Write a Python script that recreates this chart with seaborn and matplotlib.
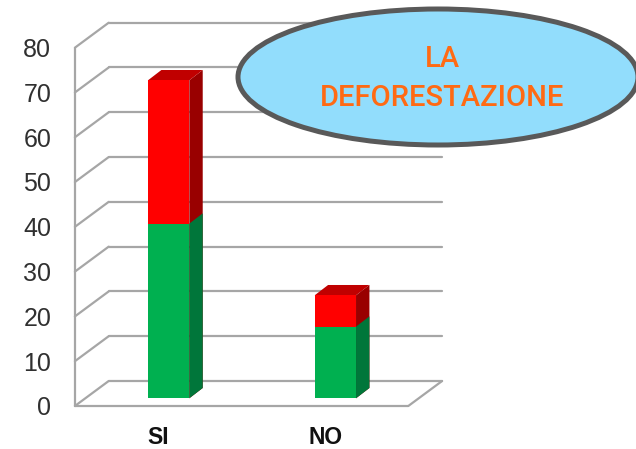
import matplotlib
matplotlib.use("Agg")
import matplotlib.pyplot as plt
import seaborn as sns
from matplotlib.patches import Ellipse, Polygon
from matplotlib.transforms import Affine2D, IdentityTransform

categories = ["SI", "NO"]
green_values = [39, 16]
red_values = [32, 7]
y_ticks = [0, 10, 20, 30, 40, 50, 60, 70, 80]
title_lines = ["LA", "DEFORESTAZIONE"]

W, H = 636, 449
sns.set_theme(style="white", rc={"font.family": ["Liberation Sans", "DejaVu Sans"]})
fig = plt.figure(figsize=(W / 100, H / 100), dpi=100, facecolor="white")
ax = fig.add_axes([85.3 / W, (H - 398.3) / H, 333.4 / W, 358.3 / H])
ax.patch.set_alpha(0)

totals = [g + r for g, r in zip(green_values, red_values)]
BAR_W = 0.248
sns.barplot(x=categories, y=totals, color="#FF0000", saturation=1, width=BAR_W, ax=ax, zorder=3)
n_red = len(ax.patches)
sns.barplot(x=categories, y=green_values, color="#00B050", saturation=1, width=BAR_W, ax=ax, zorder=3)
ax.set_xlim(-0.5, 1.5)
ax.set_ylim(0, 80)
fig.canvas.draw()

# wall / floor drawn through the axes' data transform, shifted for perspective
GRID = "#A6A6A6"
LW = 1.6
front = ax.transData + Affine2D().translate(-10.4, -7.7)
back = ax.transData + Affine2D().translate(23.4, 17.3)
x0, x1 = ax.get_xlim()
to_disp = lambda tr, x, y: tr.transform((x, y))
def seg(p, q, **kw):
    ax.add_line(plt.Line2D([p[0], q[0]], [p[1], q[1]], transform=IdentityTransform(),
                           color=GRID, lw=LW, clip_on=False, zorder=1, **kw))
for v in y_ticks:
    b = to_disp(back, x0, v)
    seg(to_disp(front, x0, v), b)
    seg(b, to_disp(back, x1, v))
seg(to_disp(front, x0, 0), to_disp(front, x0, 80))
seg(to_disp(front, x0, 0), to_disp(front, x1, 0))
seg(to_disp(front, x1, 0), to_disp(back, x1, 0))

# 3D sides and tops of the bars, derived from each drawn bar
DX, DY = 13.4, 10.3
def shade(p, side, top=None):
    bb = p.get_window_extent()
    l, r, b, t = bb.x0, bb.x1, bb.y0, bb.y1
    ax.add_patch(Polygon([(r, b), (r + DX, b + DY), (r + DX, t + DY), (r, t)], closed=True,
                         transform=IdentityTransform(), fc=side, ec="none", zorder=2.9, clip_on=False))
    if top:
        ax.add_patch(Polygon([(l, t), (r, t), (r + DX, t + DY), (l + DX, t + DY)], closed=True,
                             transform=IdentityTransform(), fc=top, ec="none", zorder=2.9, clip_on=False))
patches = list(ax.patches)
for p in patches[:n_red]:
    shade(p, "#990000", "#C00000")
for p in patches[n_red:n_red + len(categories)]:
    shade(p, "#00763A")
for p in patches[:n_red + len(categories)]:
    p.set_edgecolor("none")
    p.set_clip_on(False)

# axes text
ax.set_yticks(y_ticks)
ax.set_yticklabels([str(v) for v in y_ticks], fontsize=18, color="#303030")
ax.set_xticks(range(len(categories)))
ax.set_xticklabels(categories, fontsize=16.5, fontweight="bold", color="#111111", va="center")
ax.tick_params(axis="both", length=0)
ax.tick_params(axis="y", pad=24.5)
ax.tick_params(axis="x", pad=28.5)
yshift = Affine2D().translate(0, -7.5)
for lab in ax.get_yticklabels():
    lab.set_transform(lab.get_transform() + yshift)
xshift = Affine2D().translate(-10, 0)
for lab in ax.get_xticklabels():
    lab.set_transform(lab.get_transform() + xshift)
for s in ax.spines.values():
    s.set_visible(False)
ax.set_xlabel("")
ax.set_ylabel("")

# callout
fig.add_artist(Ellipse((438 / W, 1 - 77 / H), 400 / W, 136 / H, transform=fig.transFigure,
                       fc="#92DDFC", ec="#595959", lw=3.6, zorder=10))
for line, yp in zip(title_lines, [59, 98]):
    fig.text(442 / W, 1 - yp / H, line, ha="center", va="center", color="#FF6A13",
             fontsize=21, fontweight=500, family=["Roboto", "DejaVu Sans"], zorder=11)

fig.savefig("out.png", dpi=100)
